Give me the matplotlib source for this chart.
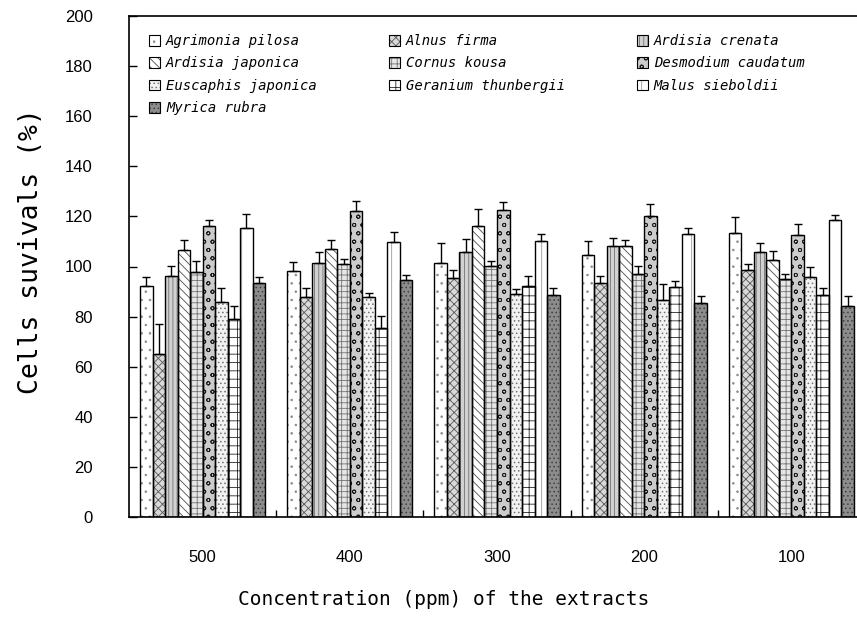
"""
Cell survival (%) after treatment with ten plant extracts at five
concentrations: grouped bars with hatch fills and upward error bars.
"""

import matplotlib

matplotlib.use("Agg")
import matplotlib.pyplot as plt
import numpy as np
from matplotlib.font_manager import FontProperties
from matplotlib.patches import Patch

# ---- data -------------------------------------------------------------
concentrations = ["500", "400", "300", "200", "100"]
species = [
    "Agrimonia pilosa", "Alnus firma", "Ardisia crenata",
    "Ardisia japonica", "Cornus kousa", "Desmodium caudatum",
    "Euscaphis japonica", "Geranium thunbergii", "Malus sieboldii",
    "Myrica rubra",
]

agrimonia = [92.2, 98.3, 101.4, 104.7, 113.4]
agrimonia_err = [3.6, 3.6, 7.9, 5.6, 6.2]
alnus = [65.2, 87.7, 95.5, 93.4, 98.6]
alnus_err = [11.7, 3.8, 3.1, 2.9, 2.3]
crenata = [96.3, 101.4, 105.8, 108.3, 105.8]
crenata_err = [3.9, 4.4, 5.3, 3.2, 3.6]
japonica = [106.5, 107.0, 116.2, 108.3, 102.5]
japonica_err = [4.1, 3.6, 6.9, 2.1, 3.6]
cornus = [97.8, 100.9, 100.1, 96.9, 95.0]
cornus_err = [4.5, 2.2, 2.2, 3.2, 1.9]
desmodium = [116.0, 122.3, 122.4, 120.2, 112.7]
desmodium_err = [2.4, 4.0, 3.5, 4.6, 4.3]
euscaphis = [85.7, 87.9, 88.9, 86.5, 95.8]
euscaphis_err = [5.8, 1.4, 2.1, 6.6, 3.9]
geranium = [79.2, 75.6, 92.1, 91.7, 88.5]
geranium_err = [5.0, 4.5, 4.2, 2.5, 2.8]
malus = [115.4, 109.8, 110.3, 112.9, 118.6]
malus_err = [5.4, 4.1, 2.7, 2.6, 1.8]
myrica = [93.4, 94.5, 88.5, 85.4, 84.2]
myrica_err = [2.3, 2.2, 2.8, 2.7, 3.9]

means = [agrimonia, alnus, crenata, japonica, cornus,
         desmodium, euscaphis, geranium, malus, myrica]
errors = [agrimonia_err, alnus_err, crenata_err, japonica_err, cornus_err,
          desmodium_err, euscaphis_err, geranium_err, malus_err, myrica_err]

# ---- styles: face colour, hatch, hatch colour -------------------------
FACES = ["white", "0.85", "0.82", "white", "0.9",
         "0.8", "0.95", "white", "white", "0.55"]
HATCHES = ["..", "xxxx", "||||", "\\\\\\\\", "+++",
           "oo", "....", "++", "|", "...."]
HATCH_COLORS = ["0.55", "0.35", "0.45", "0.3", "0.45",
                "0.1", "0.45", "0.15", "0.6", "0.25"]

MONO = "DejaVu Sans Mono"
TICKS = "Liberation Sans"

plt.rcParams["hatch.linewidth"] = 0.6


def main():
    fig = plt.figure(figsize=(8.57, 6.21), dpi=100)
    # the right spine sits just past the picture edge, as in the reference
    ax = fig.add_axes([129 / 857, 104 / 621, 736 / 857, 501 / 621])

    x = np.arange(len(concentrations))
    width = 0.085
    handles = []
    for i, name in enumerate(species):
        pos = x + (i - 4.5) * width
        vals = np.array(means[i])
        errs = np.array(errors[i])
        # fill with hatch first, then a black outline on top
        ax.bar(pos, vals, width, color=FACES[i], edgecolor=HATCH_COLORS[i],
               hatch=HATCHES[i], lw=0, zorder=2)
        ax.bar(pos, vals, width, fill=False, edgecolor="black", lw=1.0, zorder=3)
        ax.errorbar(pos, vals, yerr=[np.zeros_like(errs), errs], fmt="none",
                    ecolor="black", elinewidth=1.0, capsize=3, capthick=1.0,
                    zorder=4)
        handles.append((
            Patch(facecolor=FACES[i], edgecolor=HATCH_COLORS[i],
                  hatch=HATCHES[i], lw=0),
            Patch(fill=False, edgecolor="black", lw=0.8),
        ))

    ax.set_xlim(-0.5, 4.5)
    ax.set_ylim(0, 200)
    ax.set_yticks(range(0, 201, 20))
    ax.set_xticks(x)
    ax.set_xticklabels(concentrations)
    ax.set_xticks(x + 0.5, minor=True)
    ax.tick_params(axis="x", which="major", length=0, pad=24)
    ax.tick_params(axis="x", which="minor", direction="in", length=5, width=1)
    ax.tick_params(axis="y", direction="in", length=6, width=1, pad=26)
    for lab in ax.get_xticklabels() + ax.get_yticklabels():
        lab.set_fontfamily(TICKS)
        lab.set_fontsize(12)
    for sp in ax.spines.values():
        sp.set_linewidth(1.2)

    ax.set_ylabel("Cells suvivals (%)", family=MONO, fontsize=19)
    ax.yaxis.set_label_coords(-0.115, 0.53)
    ax.set_xlabel("Concentration (ppm) of the extracts", family=MONO,
                  fontsize=14, va="top")
    ax.xaxis.set_label_coords(0.428, -0.145)

    # legend is filled row by row in the reference; matplotlib fills
    # column by column, so reorder the entries
    order = [0, 3, 6, 9, 1, 4, 7, 2, 5, 8]
    ax.legend([handles[k] for k in order], [species[k] for k in order],
              ncol=3, frameon=False, loc="upper left",
              bbox_to_anchor=(0.02, 0.975), borderaxespad=0,
              prop=FontProperties(family=MONO, style="italic", size=10),
              handlelength=0.8, handleheight=0.8, handletextpad=0.4,
              columnspacing=5.2, labelspacing=0.6)

    fig.savefig("out.png", dpi=100)


if __name__ == "__main__":
    main()
